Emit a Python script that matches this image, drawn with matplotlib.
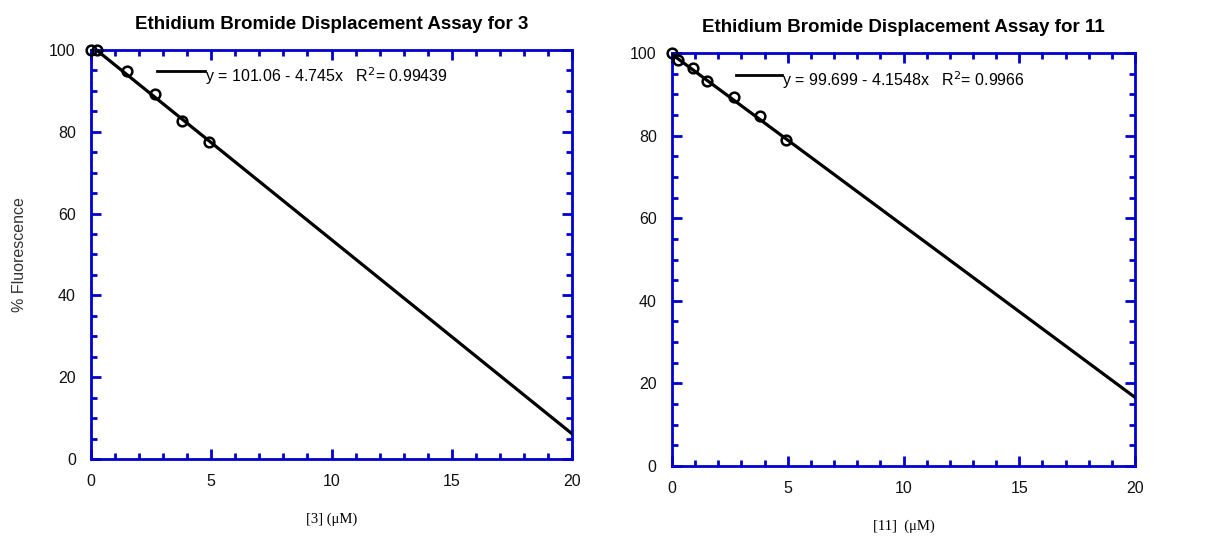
import numpy as np
import matplotlib.pyplot as plt
from matplotlib.ticker import MultipleLocator

plt.rcParams['font.family'] = ['Liberation Sans', 'DejaVu Sans']

# compound 3
x3 = [0, 0.26, 1.5, 2.66, 3.8, 4.92]
y3 = [100, 100, 94.9, 89.2, 82.6, 77.4]
fit3 = (101.06, 4.745)
r2_3 = "0.99439"

# compound 11
x11 = [0, 0.27, 0.9, 1.5, 2.67, 3.8, 4.94]
y11 = [100, 98.3, 96.4, 93.2, 89.3, 84.7, 78.9]
fit11 = (99.699, 4.1548)
r2_11 = "0.9966"

blue = '#0000cc'

fig = plt.figure(figsize=(12.14, 5.36), dpi=100)
ax1 = fig.add_axes([0.075, 0.1437, 0.3962, 0.763])
ax2 = fig.add_axes([0.5535, 0.1306, 0.3815, 0.7704])


def panel(ax, x, y, fit, r2, title, xlabel, ylabel=None, b_str='', m_str=''):
    xf = np.array([0, 20])
    ax.plot(xf, fit[0] - fit[1] * xf, color='black', lw=2.3, zorder=3)
    ax.plot(x, y, 'o', mfc='none', mec='black', mew=1.8, ms=7, zorder=4,
            clip_on=False)
    ax.set_xlim(0, 20)
    ax.set_ylim(0, 100)
    ax.xaxis.set_major_locator(MultipleLocator(5))
    ax.xaxis.set_minor_locator(MultipleLocator(1))
    ax.yaxis.set_major_locator(MultipleLocator(20))
    ax.yaxis.set_minor_locator(MultipleLocator(5))
    for s in ax.spines.values():
        s.set_color(blue)
        s.set_linewidth(2)
    ax.tick_params(which='both', direction='in', top=True, right=True,
                   color=blue, width=2, labelsize=11.5, labelcolor='#111111')
    ax.tick_params(which='major', length=7, pad=11)
    ax.tick_params(which='minor', length=4)
    ax.set_title(title, fontsize=13.5, fontweight='bold', pad=15)
    ax.set_xlabel(xlabel, family=['Liberation Serif', 'DejaVu Serif'],
                  fontsize=10.5, labelpad=17)
    if ylabel:
        ax.set_ylabel(ylabel, fontsize=11.5, labelpad=16, color='#333333')
    # legend-like key
    ax.plot([2.75, 4.75], [94.8, 94.8], color='black', lw=2)
    ax.text(4.75, 93.5, 'y = %s - %sx   R$^2$= %s' % (b_str, m_str, r2),
            fontsize=11.5, va='center', ha='left')


panel(ax1, x3, y3, fit3, r2_3, 'Ethidium Bromide Displacement Assay for 3',
      '[3] (\u03bcM)', ylabel='% Fluorescence', b_str='101.06', m_str='4.745')
panel(ax2, x11, y11, fit11, r2_11, 'Ethidium Bromide Displacement Assay for 11',
      '[11]  (\u03bcM)', b_str='99.699', m_str='4.1548')

fig.savefig('out.png', dpi=100)
